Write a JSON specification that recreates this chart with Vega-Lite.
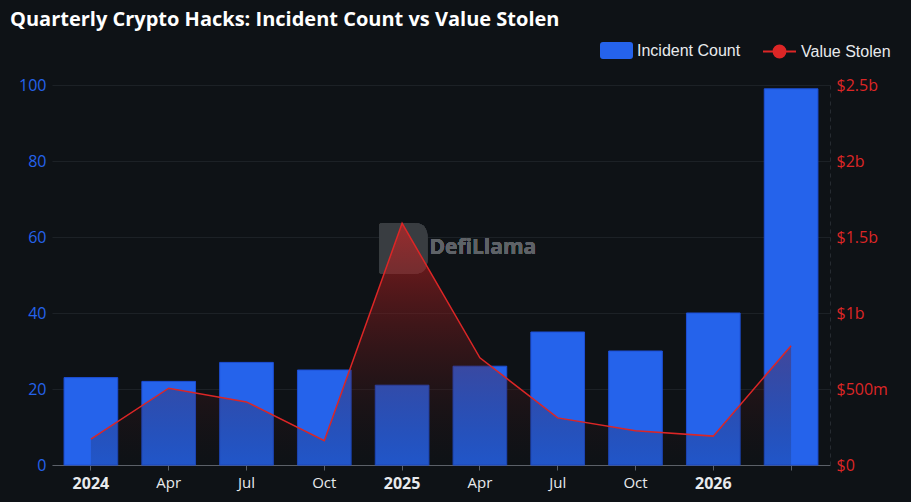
{
  "$schema": "https://vega.github.io/schema/vega-lite/v6.json",
  "width": 778,
  "height": 380,
  "autosize": {"type": "none"},
  "padding": {"left": 52, "top": 85, "right": 81, "bottom": 37},
  "background": "#0e1216",
  "config": {
    "view": {"stroke": null},
    "font": "Open Sans"
  },
  "title": {
    "text": "Quarterly Crypto Hacks: Incident Count vs Value Stolen",
    "anchor": "start",
    "frame": "group",
    "dx": -42,
    "offset": 4,
    "font": "Open Sans",
    "fontSize": 20,
    "fontWeight": "bold",
    "color": "#ffffff"
  },
  "data": {
    "values": [
      {"quarter": "2024-01", "incidents": 23, "stolen_m": 170},
      {"quarter": "2024-04", "incidents": 22, "stolen_m": 505},
      {"quarter": "2024-07", "incidents": 27, "stolen_m": 415},
      {"quarter": "2024-10", "incidents": 25, "stolen_m": 160},
      {"quarter": "2025-01", "incidents": 21, "stolen_m": 1590},
      {"quarter": "2025-04", "incidents": 26, "stolen_m": 705},
      {"quarter": "2025-07", "incidents": 35, "stolen_m": 310},
      {"quarter": "2025-10", "incidents": 30, "stolen_m": 225},
      {"quarter": "2026-01", "incidents": 40, "stolen_m": 190},
      {"quarter": "2026-04", "incidents": 99, "stolen_m": 785}
    ]
  },
  "layer": [
    {
      "mark": {"type": "bar", "stroke": "#1d4fd6", "strokeWidth": 1},
      "encoding": {
        "x": {
          "field": "quarter",
          "type": "ordinal",
          "scale": {"paddingInner": 0.31, "paddingOuter": 0.155},
          "axis": {
            "title": null,
            "labelAngle": 0,
            "labelExpr": "datum.value == '2026-04' ? '' : slice(datum.value, 5) == '01' ? slice(datum.value, 0, 4) : slice(datum.value, 5) == '04' ? 'Apr' : slice(datum.value, 5) == '07' ? 'Jul' : 'Oct'",
            "labelFontWeight": {"condition": {"test": "slice(datum.value, 5) == '01'", "value": "bold"}, "value": "normal"},
            "labelFontSize": {"condition": {"test": "slice(datum.value, 5) == '01'", "value": 16}, "value": 15},
            "labelColor": "#e8eaed",
            "labelFont": "Open Sans",
            "labelPadding": 5,
            "domainColor": "#5b6068",
            "tickColor": "#5b6068",
            "tickSize": 5,
            "grid": false
          }
        },
        "y": {
          "field": "incidents",
          "type": "quantitative",
          "scale": {"domain": [0, 100], "nice": false},
          "axis": {
            "title": null,
            "orient": "left",
            "values": [0, 20, 40, 60, 80, 100],
            "labelColor": "#2563eb",
            "labelFontSize": 16,
            "labelFont": "Open Sans",
            "labelPadding": 6,
            "domain": false,
            "ticks": false,
            "grid": true,
            "gridColor": "#1c2126",
            "gridWidth": 1
          }
        },
        "fill": {
          "datum": "Incident Count",
          "type": "nominal",
          "scale": {"range": ["#2563eb"]},
          "legend": {
            "title": null,
            "orient": "none",
            "legendX": 548,
            "legendY": -51,
            "symbolType": "M-0.82,-0.52H0.82Q1,-0.52 1,-0.34V0.34Q1,0.52 0.82,0.52H-0.82Q-1,0.52 -1,0.34V-0.34Q-1,-0.52 -0.82,-0.52Z",
            "symbolSize": 1089,
            "symbolStrokeWidth": 0,
            "labelFont": "Liberation Sans",
            "labelFontSize": 16,
            "labelColor": "#e8eaed",
            "labelOffset": 4
          }
        }
      }
    },
    {
      "layer": [
        {
          "mark": {"type": "point", "filled": true, "shape": "M-0.8,-1H0.5Q1,-1 1,-0.4V0.4Q1,1 0.5,1H-0.8Q-0.9,1 -0.9,0.9V-0.9Q-0.9,-1 -0.8,-1Z", "size": 2600, "fill": "#3a3e42", "fillOpacity": 0.5, "strokeWidth": 0},
          "encoding": {
            "x": {"datum": "2025-01", "type": "ordinal"},
            "y": {"datum": 57, "type": "quantitative", "scale": {"domain": [0, 100], "nice": false}, "axis": null}
          }
        },
        {
          "mark": {"type": "text", "font": "Open Sans", "fontSize": 21, "fontWeight": "bold", "fill": "#5f6368", "fillOpacity": 0.75, "dx": 3},
          "encoding": {
            "x": {"datum": "2025-04", "type": "ordinal"},
            "y": {"datum": 57, "type": "quantitative"},
            "text": {"value": "DefiLlama"}
          }
        }
      ]
    },
    {
      "layer": [
        {
          "mark": {
            "type": "area",
            "fill": {
              "gradient": "linear",
              "x1": 0, "y1": 0, "x2": 0, "y2": 1,
              "stops": [
                {"offset": 0, "color": "rgba(210,34,34,0.62)"},
                {"offset": 1, "color": "rgba(14,18,22,0.16)"}
              ]
            }
          },
          "encoding": {
            "x": {"field": "quarter", "type": "ordinal"},
            "y": {
              "field": "stolen_m",
              "type": "quantitative",
              "scale": {"domain": [0, 2500], "nice": false},
              "axis": {
                "title": null,
                "orient": "right",
                "values": [0, 500, 1000, 1500, 2000, 2500],
                "labelExpr": "datum.value == 0 ? '$0' : datum.value >= 1000 ? '$' + (datum.value / 1000) + 'b' : '$' + datum.value + 'm'",
                "labelColor": "#dc2626",
                "labelFontSize": 16,
                "labelFont": "Open Sans",
                "labelPadding": 6,
                "domain": true,
                "domainColor": "#262b31",
                "domainDash": [4, 4],
                "ticks": false,
                "grid": false
              }
            }
          }
        },
        {
          "mark": {"type": "line", "strokeWidth": 1.5},
          "encoding": {
            "x": {"field": "quarter", "type": "ordinal"},
            "y": {"field": "stolen_m", "type": "quantitative", "scale": {"domain": [0, 2500], "nice": false}},
            "stroke": {
              "datum": "Value Stolen",
              "type": "nominal",
              "scale": {"range": ["#dc2626"]},
              "legend": {
                "title": null,
                "orient": "none",
                "legendX": 710,
                "legendY": -51,
                "symbolType": "M-1,0H1M-0.36,0A0.36,0.36 0 1 1 0.36,0A0.36,0.36 0 1 1 -0.36,0Z",
                "symbolSize": 1089,
                "symbolStrokeWidth": 2,
                "symbolFillColor": "#dc2626",
                "labelFont": "Liberation Sans",
                "labelFontSize": 16,
                "labelColor": "#e8eaed",
                "labelOffset": 4
              }
            }
          }
        }
      ]
    }
  ],
  "resolve": {"scale": {"y": "independent", "fill": "independent", "stroke": "independent"}}
}
